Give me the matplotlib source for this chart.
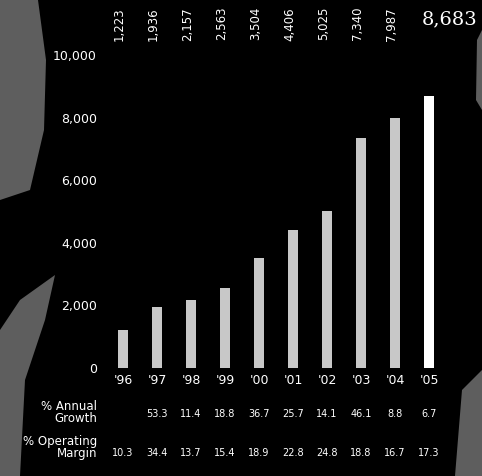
import matplotlib
matplotlib.use("Agg")
import matplotlib.pyplot as plt
import numpy as np

years = ["'96", "'97", "'98", "'99", "'00", "'01", "'02", "'03", "'04", "'05"]
revenue = [1223, 1936, 2157, 2563, 3504, 4406, 5025, 7340, 7987, 8683]
growth = ["", "53.3", "11.4", "18.8", "36.7", "25.7", "14.1", "46.1", "8.8", "6.7"]
margin = ["10.3", "34.4", "13.7", "15.4", "18.9", "22.8", "24.8", "18.8", "16.7", "17.3"]

W, H = 482, 476
fig = plt.figure(figsize=(W / 100, H / 100), dpi=100, facecolor="black")

# scanned texture on the edges
bg = fig.add_axes([0, 0, 1, 1])
bg.set_xlim(0, W)
bg.set_ylim(H, 0)
bg.axis("off")
tex = "#5e5e5e"
bg.fill([0, 38, 46, 44, 30, 0], [0, 0, 60, 130, 190, 200], color=tex, lw=0)
bg.fill([0, 20, 55, 45, 25, 20, 0], [330, 300, 275, 320, 380, 476, 476], color=tex, lw=0)
bg.fill([462, 482, 482, 455], [390, 370, 476, 476], color=tex, lw=0)
bg.fill([477, 482, 482, 476], [40, 30, 110, 100], color=tex, lw=0)

ax = fig.add_axes([102.6 / W, 108 / H, 346.8 / W, 313 / H], facecolor="none")
x = np.arange(len(years))
colors = ["#c8c8c8"] * (len(years) - 1) + ["white"]
ax.bar(x, revenue, width=0.27, color=colors)
ax.set_xlim(-0.6, 9.6)
ax.set_ylim(0, 10000)
ax.set_yticks(range(0, 10001, 2000))
ax.set_yticklabels([f"{v:,}" for v in range(0, 10001, 2000)])
ax.set_xticks(x)
ax.set_xticklabels(years)
ax.tick_params(colors="white", labelsize=9, length=0, pad=4)
for s in ax.spines.values():
    s.set_visible(False)

# value labels on top
for i, v in enumerate(revenue[:-1]):
    ax.text(i - 0.1, 1.1, f"{v:,}", transform=ax.get_xaxis_transform(),
            rotation=90, color="white", fontsize=8.5, ha="center", va="center")
ax.text(9.6, 1.115, f"{revenue[-1]:,}", transform=ax.get_xaxis_transform(),
        color="white", fontsize=14, family="DejaVu Serif", ha="center", va="center")

# table rows below
trans = ax.get_xaxis_transform()
for i in range(len(years)):
    ax.text(i, -0.148, growth[i], transform=trans, color="white", fontsize=7,
            ha="center", va="center")
    ax.text(i, -0.272, margin[i], transform=trans, color="white", fontsize=7,
            ha="center", va="center")
fig.text(97 / W, 1 - 412 / H, "% Annual\nGrowth", color="white", fontsize=8.5,
         ha="right", va="center", linespacing=0.9)
fig.text(97 / W, 1 - 447 / H, "% Operating\nMargin", color="white", fontsize=8.5,
         ha="right", va="center", linespacing=0.9)

fig.savefig("out.png", dpi=100, facecolor="black")
